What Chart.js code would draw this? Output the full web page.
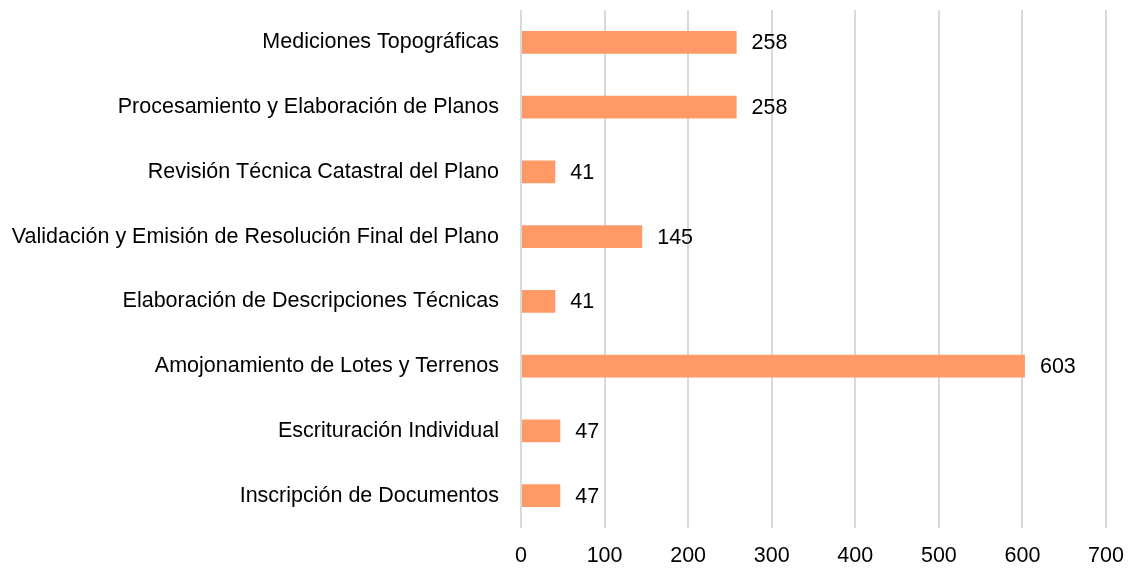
<!DOCTYPE html>
<html>
<head>
<meta charset="utf-8">
<script src="https://cdn.jsdelivr.net/npm/chart.js@4/dist/chart.umd.min.js"></script>
<style>
    html, body { margin: 0; padding: 0; background: #fff; }
    #wrap { width: 1129px; height: 571px; position: relative; }
</style>
</head>
<body>
<div id="wrap"><canvas id="graph1"></canvas></div>
<script>
var categories = [
    'Mediciones Topográficas',
    'Procesamiento y Elaboración de Planos',
    'Revisión Técnica Catastral del Plano',
    'Validación y Emisión de Resolución Final del Plano',
    'Elaboración de Descripciones Técnicas',
    'Amojonamiento de Lotes y Terrenos',
    'Escrituración Individual',
    'Inscripción de Documentos'
];
var values = [258, 258, 41, 145, 41, 603, 47, 47];
var xTicks = [0, 100, 200, 300, 400, 500, 600, 700];

var fontFamily = "'Liberation Sans', Arial, sans-serif";
var fontSize = 21.5;

// etiquetas de valor al final de cada barra
var valueLabels = {
    id: 'valueLabels',
    afterDatasetsDraw: function(chart) {
        var ctx = chart.ctx;
        var meta = chart.getDatasetMeta(0);
        ctx.save();
        ctx.font = fontSize + 'px ' + fontFamily;
        ctx.fillStyle = '#000';
        ctx.textAlign = 'left';
        ctx.textBaseline = 'middle';
        meta.data.forEach(function(bar, i) {
            ctx.fillText(values[i], bar.x + 15, bar.y + 1);
        });
        ctx.restore();
    }
};

var ctx1 = document.getElementById('graph1').getContext('2d');
var graph1 = new Chart(ctx1, {
    type: 'bar',
    data: {
        labels: categories,
        datasets: [{
            data: values,
            backgroundColor: '#FF9A66',
            borderWidth: 0,
            barPercentage: 1,
            categoryPercentage: 0.355
        }]
    },
    options: {
        indexAxis: 'y',
        responsive: true,
        maintainAspectRatio: false,
        animation: false,
        layout: { padding: { top: 10, right: 23, left: 0, bottom: 0 } },
        plugins: {
            legend: { display: false },
            tooltip: { enabled: false }
        },
        scales: {
            x: {
                min: 0,
                max: 700,
                afterBuildTicks: function(axis) {
                    axis.ticks = xTicks.map(function(v) { return { value: v }; });
                },
                afterFit: function(axis) {
                    axis.height = 43;
                    axis.paddingLeft = 0;
                    axis.paddingRight = 0;
                },
                grid: { color: '#D9D9D9', lineWidth: 2, drawTicks: false },
                border: { display: false },
                ticks: {
                    color: '#000',
                    padding: 15,
                    font: { size: fontSize, family: fontFamily }
                }
            },
            y: {
                grid: { display: false },
                border: { display: false },
                afterFit: function(axis) {
                    axis.width = 521;
                    axis.paddingTop = 0;
                    axis.paddingBottom = 0;
                },
                ticks: {
                    color: '#000',
                    padding: 14,
                    font: { size: fontSize, family: fontFamily }
                }
            }
        }
    },
    plugins: [valueLabels]
});
</script>
</body>
</html>
